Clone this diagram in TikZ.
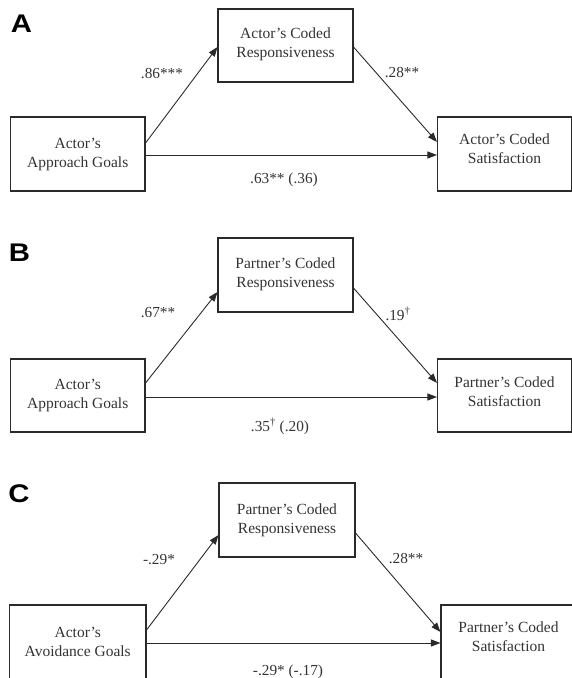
\documentclass[tikz,border=0pt]{standalone}
\usepackage{fontspec}
\setmainfont{Liberation Serif}
\newfontfamily\panelfont{Liberation Sans}
\usetikzlibrary{arrows.meta}
\definecolor{ink}{HTML}{2A2A2A}
\definecolor{txtc}{HTML}{333333}
\tikzset{
  box/.style={draw=ink, line width=1.05pt, minimum width=#1, minimum height=74pt, inner sep=0pt},
  box/.default=135pt,
  boxtext/.style={align=center, text=txtc, font=\fontsize{15.5}{19}\selectfont, inner sep=0pt},
  coef/.style={text=txtc, font=\fontsize{15.3}{18}\selectfont, inner sep=0pt, anchor=base},
  panel/.style={text=black, font=\panelfont\bfseries\fontsize{25.5}{26}\selectfont, inner sep=0pt, xscale=1.15},
  path/.style={draw=ink, line width=0.9pt, -{Triangle[length=9.5pt,width=7pt]}}
}
\begin{document}
\begin{tikzpicture}[x=1pt,y=-1pt]
\useasboundingbox (0,0) rectangle (572,678);

% ---------- Panel A ----------
\node[panel] (pA) at (21.5,23.5) {A};
\node[box=135pt, minimum height=73pt] (ta) at (285.5,45.5) {};
\node[boxtext] (tat) at (285.5,44.5) {Actor’s Coded\\Responsiveness};
\node[box=134.5pt] (la) at (77.75,154) {};
\node[boxtext] (lat) at (77.75,154) {Actor’s\\Approach Goals};
\node[box=134pt] (ra) at (504.5,154) {};
\node[boxtext] (rat) at (504.5,148.5) {Actor’s Coded\\Satisfaction};
\draw[path] ([yshift=11pt]la.east) -- ([yshift=-1.5pt]ta.west);
\draw[path] ([yshift=-1.5pt]ta.east) -- ([yshift=12pt]ra.west);
\draw[path] ([yshift=-1pt]la.east) -- ([yshift=-1pt]ra.west);
\node[coef] (ca1) at (162,78) {.86***};
\node[coef] (ca2) at (402,77) {.28**};
\node[coef] (ca3) at (284,183) {.63** (.36)};

% ---------- Panel B ----------
\node[panel] (pB) at (19.5,252.5) {B};
\node[box=135pt] (tb) at (285.5,275) {};
\node[boxtext] (tbt) at (285.5,274.5) {Partner’s Coded\\Responsiveness};
\node[box=134.5pt, minimum height=73pt] (lb) at (77.75,395.5) {};
\node[boxtext] (lbt) at (77.75,395.5) {Actor’s\\Approach Goals};
\node[box=134pt, minimum height=73pt] (rb) at (504.5,395.5) {};
\node[boxtext] (rbt) at (504.5,392) {Partner’s Coded\\Satisfaction};
\draw[path] ([yshift=12.5pt]lb.east) -- ([yshift=-17pt]tb.west);
\draw[path] ([yshift=-13pt]tb.east) -- ([yshift=12.5pt]rb.west);
\draw[path] ([yshift=-1.5pt]lb.east) -- ([yshift=-1.5pt]rb.west);
\node[coef] (cb1) at (158,317) {.67**};
\node[coef] (cb2) at (398,320) {.19\textsuperscript{†}};
\node[coef] (cb3) at (280,431) {.35\textsuperscript{†} (.20)};

% ---------- Panel C ----------
\node[panel] (pC) at (19,494) {C};
\node[box=136pt] (tc) at (287,520) {};
\node[boxtext] (tct) at (287,520) {Partner’s Coded\\Responsiveness};
\node[box=136.5pt] (lc) at (77.75,642) {};
\node[boxtext] (lct) at (77.75,642) {Actor’s\\Avoidance Goals};
\node[box=135pt] (rc) at (508.5,642) {};
\node[boxtext] (rct) at (508.5,637) {Partner’s Coded\\Satisfaction};
\draw[path] ([yshift=12pt]lc.east) -- ([yshift=-15pt]tc.west);
\draw[path] ([yshift=-13pt]tc.east) -- ([yshift=10pt]rc.west);
\draw[path] ([yshift=-1pt]lc.east) -- ([yshift=-1pt]rc.west);
\node[coef] (cc1) at (159,564) {-.29*};
\node[coef] (cc2) at (406,563) {.28**};
\node[coef] (cc3) at (288,675) {-.29* (-.17)};
\end{tikzpicture}
\end{document}
